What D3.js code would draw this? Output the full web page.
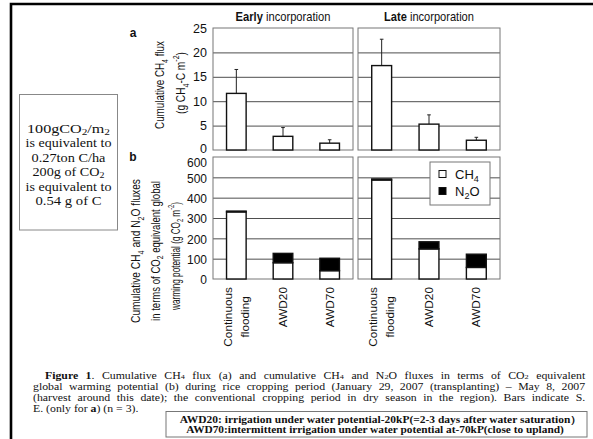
<!DOCTYPE html>
<html><head><meta charset="utf-8">
<script src="https://cdn.jsdelivr.net/npm/d3@7"></script>
<style>html,body{margin:0;padding:0;background:#fff;} svg{display:block;}</style>
</head><body>
<svg id="c" width="593" height="439"></svg>
<script>
// ---------- data ----------
const categories = ["Continuous flooding", "AWD20", "AWD70"];
const categoryLines = [["Continuous", "flooding"], ["AWD20"], ["AWD70"]];
const periods = ["Early", "Late"];
const periodTitles = ["*{Early} incorporation", "*{Late} incorporation"];
const ch4FluxEarly = [11.6, 2.8, 1.4];
const ch4FluxEarlySE = [4.9, 1.8, 0.7];
const ch4FluxLate = [17.3, 5.3, 2.0];
const ch4FluxLateSE = [5.4, 1.9, 0.6];
const gwpCH4Early = [330, 80, 41];
const gwpN2OEarly = [4, 46, 61];
const gwpCH4Late = [487, 148, 57];
const gwpN2OLate = [5, 35, 65];
const ticksA = [0, 5, 10, 15, 20, 25];
const ticksB = [0, 100, 200, 300, 400, 500, 600];
const seriesKeys = ["CH4", "N2O"];
const legendLabels = ["CH_{4}", "N_{2}O"];
const noteLines = ["100gCO_{2}/m_{2}", "is equivalent to", "0.27ton C/ha", "200g of CO_{2}", "is equivalent to", "0.54 g of C"];
const noteWidths = [83, 86, 74, 72, 86, 66];
const captionLines = [
  "*{Figure 1}. Cumulative CH_{4} flux (a) and cumulative CH_{4} and N_{2}O fluxes in terms of CO_{2} equivalent",
  "global warming potential (b) during rice cropping period (January 29, 2007 (transplanting) – May 8, 2007",
  "(harvest around this date); the conventional cropping period in dry season in the region). Bars indicate S.",
  "E. (only for *{a}) (n = 3)."
];
const boxLines = [
  "AWD20: irrigation under water potential-20kP(=2-3 days after water saturation\uFF09",
  "AWD70:intermittent irrigation under water potential at-70kP(close to upland)"
];

// ---------- helpers ----------
const SANS = "'Liberation Sans', Arial, Helvetica, sans-serif";
const SERIF = "'Liberation Serif', 'Times New Roman', Times, serif";
const svg = d3.select('#c');

function rich(textSel, str, fs, subShift) {
  const re = /([_^*])\{([^}]*)\}/g;
  let last = 0, m;
  const parts = [];
  while ((m = re.exec(str))) {
    if (m.index > last) parts.push({t: str.slice(last, m.index), k: ''});
    parts.push({t: m[2], k: m[1]});
    last = re.lastIndex;
  }
  if (last < str.length) parts.push({t: str.slice(last), k: ''});
  let cur = 0;
  const sub = subShift == null ? 0.28 : subShift;
  parts.forEach(p => {
    const ts = textSel.append('tspan').text(p.t);
    let target = 0;
    if (p.k === '_') { ts.attr('font-size', fs * 0.7); target = fs * sub; }
    else if (p.k === '^') { ts.attr('font-size', fs * 0.7); target = -fs * 0.4; }
    else if (p.k === '*') { ts.attr('font-weight', 'bold'); }
    if (target !== cur) { ts.attr('dy', target - cur); cur = target; }
  });
  return textSel;
}
function makeText(parent, str, fs, family, anchor, subShift) {
  const t = parent.append('text').attr('font-family', family).attr('font-size', fs)
    .attr('text-anchor', anchor || 'start').attr('fill', '#111');
  rich(t, str, fs, subShift);
  return t;
}
// rotated label whose length is fitted to a target
function vLabel(str, cx, cy, fs, target) {
  const t = makeText(svg, str, fs, SANS, 'middle').attr('dy', '0.35em');
  const len = t.node().getComputedTextLength();
  const s = target ? target / len : 1;
  t.attr('transform', `translate(${cx},${cy}) rotate(-90) scale(${s},1)`);
  return t;
}
function hFit(t, cx, y, target, sy) {
  const len = t.node().getComputedTextLength();
  const s = target / len;
  t.attr('text-anchor', 'middle').attr('transform', `translate(${cx},${y}) scale(${s},${sy || 1})`);
}
// place a line starting at x0, stretched (via word spacing, then scale) to reach x1
function justifyLine(t, x0, y, x1, sy) {
  let len = t.node().getComputedTextLength();
  const n = (t.text().match(/ /g) || []).length;
  if (x1 != null && n > 0) {
    t.style('word-spacing', Math.max(-1, (x1 - x0 - len) / n) + 'px');
    len = t.node().getComputedTextLength();
  }
  const sx = x1 != null ? (x1 - x0) / len : 1;
  t.attr('text-anchor', 'start').attr('transform', `translate(${x0},${y}) scale(${sx},${sy})`);
}

// ---------- frame ----------
svg.append('path').attr('d', 'M11,439V4H593').attr('fill', 'none')
  .attr('stroke', '#000').attr('stroke-width', 2.6);

// ---------- scales ----------
const panelX = [[213, 353], [358, 500]];
const yA = d3.scaleLinear().domain([0, 25]).range([150, 28]);
const yB = d3.scaleLinear().domain([0, 600]).range([279, 157]);
const fluxData = [ch4FluxEarly, ch4FluxLate];
const fluxSE = [ch4FluxEarlySE, ch4FluxLateSE];
const gwpCH4 = [gwpCH4Early, gwpCH4Late];
const gwpN2O = [gwpN2OEarly, gwpN2OLate];
const stack = d3.stack().keys(seriesKeys);

periods.forEach((p, i) => {
  const [x0, x1] = panelX[i];
  const w = x1 - x0;
  const x = d3.scaleBand().domain(categories).range([x0, x1]).paddingInner(0.58).paddingOuter(0.29);

  // title
  const tt = makeText(svg, periodTitles[i], 12.5, SANS, 'middle');
  hFit(tt, (x0 + x1) / 2, 21, i === 0 ? 95 : 90);

  // ----- panel a -----
  const gA = svg.append('g');
  gA.append('g').attr('transform', `translate(${x0},0)`)
    .call(d3.axisLeft(yA).tickValues(ticksA.filter(t => t > 0 && t < 25)).tickSize(-w).tickFormat(''))
    .call(g => g.select('.domain').remove())
    .call(g => g.selectAll('line').attr('stroke', '#3a3a3a').attr('stroke-width', 0.9));
  gA.append('rect').attr('x', x0).attr('y', yA(25)).attr('width', w).attr('height', yA(0) - yA(25))
    .attr('fill', 'none').attr('stroke', '#777').attr('stroke-width', 1);
  const rowsA = categories.map((c, j) => ({c, v: fluxData[i][j], se: fluxSE[i][j]}));
  gA.selectAll('.err').data(rowsA).join('line')
    .attr('x1', d => x(d.c) + x.bandwidth() / 2).attr('x2', d => x(d.c) + x.bandwidth() / 2)
    .attr('y1', d => yA(d.v)).attr('y2', d => yA(d.v + d.se))
    .attr('stroke', '#222').attr('stroke-width', 1);
  gA.selectAll('.cap').data(rowsA).join('line')
    .attr('x1', d => x(d.c) + x.bandwidth() / 2 - 1.8).attr('x2', d => x(d.c) + x.bandwidth() / 2 + 1.8)
    .attr('y1', d => yA(d.v + d.se)).attr('y2', d => yA(d.v + d.se))
    .attr('stroke', '#222').attr('stroke-width', 1);
  gA.selectAll('.bar').data(rowsA).join('rect')
    .attr('x', d => x(d.c)).attr('width', x.bandwidth())
    .attr('y', d => yA(d.v)).attr('height', d => yA(0) - yA(d.v))
    .attr('fill', '#fff').attr('stroke', '#111').attr('stroke-width', 1.4);

  // ----- panel b -----
  const gB = svg.append('g');
  gB.append('g').attr('transform', `translate(${x0},0)`)
    .call(d3.axisLeft(yB).tickValues(ticksB.filter(t => t > 0 && t < 600)).tickSize(-w).tickFormat(''))
    .call(g => g.select('.domain').remove())
    .call(g => g.selectAll('line').attr('stroke', '#3a3a3a').attr('stroke-width', 0.9));
  gB.append('rect').attr('x', x0).attr('y', yB(600)).attr('width', w).attr('height', yB(0) - yB(600))
    .attr('fill', 'none').attr('stroke', '#777').attr('stroke-width', 1);
  const rowsB = categories.map((c, j) => ({c, CH4: gwpCH4[i][j], N2O: gwpN2O[i][j]}));
  const series = stack(rowsB);
  gB.selectAll('.s').data(series).join('g')
    .attr('fill', d => d.key === 'CH4' ? '#fff' : '#000')
    .selectAll('rect').data(d => d).join('rect')
    .attr('x', d => x(d.data.c)).attr('width', x.bandwidth())
    .attr('y', d => yB(d[1])).attr('height', d => yB(d[0]) - yB(d[1]))
    .attr('stroke', '#111').attr('stroke-width', 1.4);

  // category labels
  categories.forEach((c, j) => {
    const cx = x(c) + x.bandwidth() / 2;
    const lines = categoryLines[j];
    const fs = 11.8;
    const texts = lines.map(l => svg.append('text').attr('font-family', SANS).attr('font-size', fs)
      .attr('fill', '#111').attr('text-anchor', 'middle').attr('dy', '0.35em').text(l));
    const maxLen = d3.max(texts, t => t.node().getComputedTextLength());
    const cy = 287 + maxLen / 2;
    const off = lines.length === 2 ? [-8.5, 8.5] : [0];
    texts.forEach((t, k) => t.attr('transform', `translate(${cx + off[k]},${cy}) rotate(-90)`));
  });

  // y tick labels for the left panels
  if (i === 0) {
    svg.append('g').attr('transform', `translate(${x0},0)`)
      .call(d3.axisLeft(yA).tickValues(ticksA).tickSize(0).tickPadding(6))
      .call(g => g.select('.domain').remove())
      .call(g => g.selectAll('text').attr('font-family', SANS).attr('font-size', 12.5).attr('fill', '#111')
        .attr('dy', d => d === 0 ? '0.2em' : '0.32em'));
    svg.append('g').attr('transform', `translate(${x0},0)`)
      .call(d3.axisLeft(yB).tickValues(ticksB).tickSize(0).tickPadding(6))
      .call(g => g.select('.domain').remove())
      .call(g => g.selectAll('text').attr('font-family', SANS).attr('font-size', 12).attr('fill', '#111')
        .attr('dy', d => d === 600 ? '0.75em' : '0.4em'));
  } else {
    // legend
    const lg = svg.append('g');
    lg.append('rect').attr('x', 430).attr('y', 162).attr('width', 60).attr('height', 43)
      .attr('fill', '#fff').attr('stroke', '#777').attr('stroke-width', 1);
    seriesKeys.forEach((k, j) => {
      const yy = 174 + j * 17;
      lg.append('rect').attr('x', 439).attr('y', yy - 3.5).attr('width', 7).attr('height', 7)
        .attr('fill', k === 'CH4' ? '#fff' : '#000').attr('stroke', '#111').attr('stroke-width', 1);
      makeText(lg, legendLabels[j], 13, SANS, 'start').attr('x', 455).attr('y', yy + 4.6);
    });
  }
});

// panel letters
makeText(svg, "a", 12, SANS, 'middle').attr('font-weight', 'bold').attr('x', 133).attr('y', 37);
makeText(svg, "b", 12, SANS, 'middle').attr('font-weight', 'bold').attr('x', 133).attr('y', 161);

// y-axis titles
vLabel("Cumulative CH_{4} flux", 159, 85, 13.5, 88);
vLabel("(g CH_{4}-C m^{-2})", 180, 83, 13.5, 62);
vLabel("Cumulative CH_{4} and N_{2}O fluxes", 135, 251, 13.5, 144);
vLabel("in terms of CO_{2} equivalent global", 155, 251, 13.5, 140);
vLabel("warming potential (g CO_{2} m^{-2})", 175, 256, 13.5, 108);

// note box
svg.append('rect').attr('x', 19.5).attr('y', 94.5).attr('width', 98).attr('height', 135.5)
  .attr('fill', '#fff').attr('stroke', '#888').attr('stroke-width', 1);
noteLines.forEach((l, k) => {
  const t = makeText(svg, l, 14, SERIF, 'middle', 0.15);
  hFit(t, 68.5, 133 + k * 14.4, noteWidths[k], 0.92);
});

// caption
const capY = [378.5, 389.7, 400.9, 412];
captionLines.forEach((l, k) => {
  const x0 = k === 0 ? 45 : 33;
  const t = makeText(svg, l, 11.8, SERIF, 'start', 0.1);
  justifyLine(t, x0, capY[k], k < 3 ? 586 : null, 0.84);
});

// definitions box
svg.append('rect').attr('x', 166).attr('y', 411.5).attr('width', 421).attr('height', 25.5)
  .attr('fill', '#fff').attr('stroke', '#777').attr('stroke-width', 1);
boxLines.forEach((l, k) => {
  const t = svg.append('text').attr('font-family', SERIF).attr('font-size', 11).attr('font-weight', 'bold')
    .attr('fill', '#111').text(l);
  hFit(t, k === 0 ? 381 : 375, k === 0 ? 422.8 : 433, k === 0 ? 402 : 378, 0.88);
});
</script>
</body></html>
